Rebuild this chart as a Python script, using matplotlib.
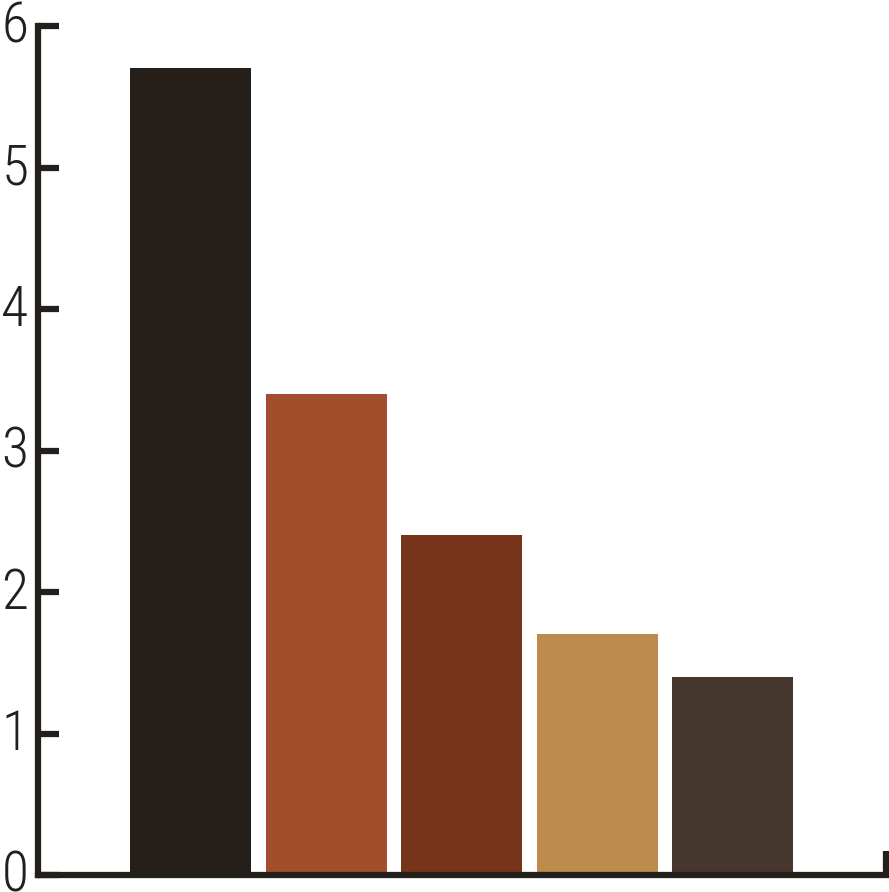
import matplotlib
matplotlib.use("Agg")
import matplotlib.pyplot as plt
from matplotlib.transforms import ScaledTranslation

values = [5.7, 3.4, 2.4, 1.7, 1.4]
colors = ["#261E18", "#A24E2D", "#76341B", "#BD8C4C", "#45372D"]
yticks = [0, 1, 2, 3, 4, 5, 6]

axis_color = "#231F1A"
fam = ["Roboto Condensed", "DejaVu Sans"]
fig = plt.figure(figsize=(8.89, 8.92), dpi=100)
ax = fig.add_axes([38/889, 17/892, 848/889, 849/892])
xs = list(range(len(values)))
ax.bar(xs, values, width=0.893, color=colors, zorder=1)
ax.set_xlim(-1.125, 5.13)
ax.set_ylim(0, 6)
for s in ["top", "right"]:
    ax.spines[s].set_visible(False)
for s in ["left", "bottom"]:
    ax.spines[s].set_linewidth(4.5)
    ax.spines[s].set_color(axis_color)
    ax.spines[s].set_capstyle("projecting")
    ax.spines[s].set_zorder(3)
ax.set_yticks(yticks)
ax.set_yticklabels([str(t) for t in yticks], fontfamily=fam, fontweight="light",
                   fontsize=40, color=axis_color)
ax.tick_params(axis="y", direction="in", length=15, width=4.5, color=axis_color, pad=7)
shift = ScaledTranslation(0, 3 / 72, fig.dpi_scale_trans)
for lab in ax.get_yticklabels():
    lab.set_transform(lab.get_transform() + shift)
ax.set_xticks([5.13])
ax.set_xticklabels([""])
ax.tick_params(axis="x", direction="in", length=17, width=4.5, color=axis_color)
fig.savefig("out.png", dpi=100)
